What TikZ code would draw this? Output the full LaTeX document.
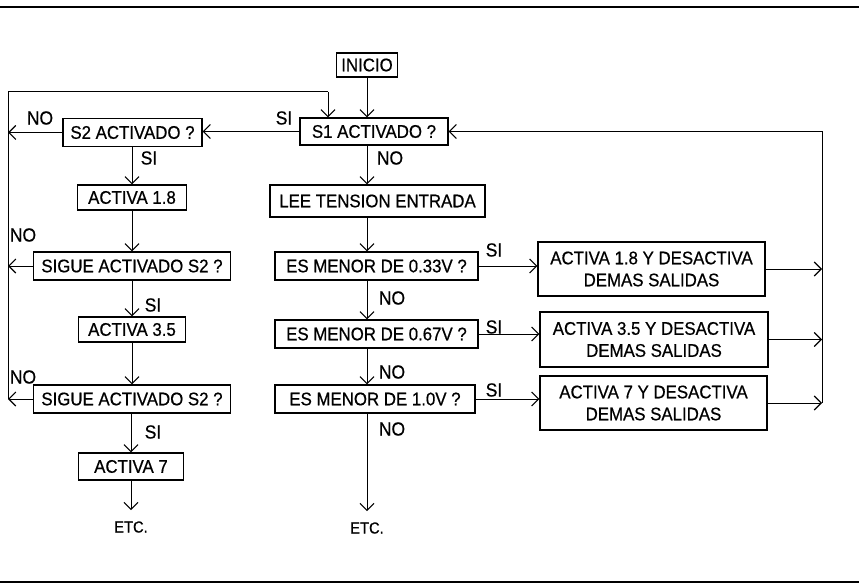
\documentclass[tikz,border=0pt]{standalone}
\usepackage{fontspec}
\setmainfont[FakeStretch=0.92,FakeBold=0.6]{Liberation Sans}
\usetikzlibrary{arrows.meta}
\begin{document}
\begin{tikzpicture}[x=1pt,y=-1pt,
 box/.style={draw,line width=1.2pt,inner sep=0pt,align=center,font=\fontsize{18.3}{22}\selectfont},
 lbl/.style={inner sep=0pt,font=\fontsize{19}{20}\selectfont},
 etclbl/.style={inner sep=0pt,font=\fontsize{16}{17}\selectfont},
 conn/.style={line width=1pt},
 arr/.style={conn,-{Straight Barb[length=7pt,width=14pt,line width=1.1pt]}},
 border/.style={line width=2pt}]
\useasboundingbox (0,0) rectangle (859,583);
\draw[border] (0,7) -- (859,7);
\draw[border] (0,582) -- (859,582);
% nodes
\node[box,minimum width=61pt,minimum height=24pt] (ini) at (367,65) {INICIO};
\node[box,minimum width=148pt,minimum height=27pt] (s1) at (374,131.5) {S1 ACTIVADO ?};
\node[box,minimum width=139pt,minimum height=28pt] (s2) at (132.5,132.5) {S2 ACTIVADO ?};
\node[box,minimum width=109pt,minimum height=25pt] (a18) at (132,197.5) {ACTIVA 1.8};
\node[box,minimum width=215pt,minimum height=32pt] (lee) at (377.5,201) {LEE TENSION ENTRADA};
\node[box,minimum width=197pt,minimum height=28pt] (sg1) at (132,266) {SIGUE ACTIVADO S2 ?};
\node[box,minimum width=107pt,minimum height=25pt] (a35) at (132,329.5) {ACTIVA 3.5};
\node[box,minimum width=197pt,minimum height=28pt] (sg2) at (132,399) {SIGUE ACTIVADO S2 ?};
\node[box,minimum width=105pt,minimum height=27pt] (a7) at (131,466.5) {ACTIVA 7};
\node[box,minimum width=203pt,minimum height=28pt] (es1) at (376.5,266) {ES MENOR DE 0.33V ?};
\node[box,minimum width=203pt,minimum height=28pt] (es2) at (376.5,334) {ES MENOR DE 0.67V ?};
\node[box,minimum width=200pt,minimum height=28pt] (es3) at (375,399) {ES MENOR DE 1.0V ?};
\node[box,minimum width=227pt,minimum height=54pt] (b1) at (651.5,269) {ACTIVA 1.8 Y DESACTIVA\\DEMAS SALIDAS};
\node[box,minimum width=228pt,minimum height=55pt] (b2) at (654,339.5) {ACTIVA 3.5 Y DESACTIVA\\DEMAS SALIDAS};
\node[box,minimum width=227pt,minimum height=54pt] (b3) at (653.5,403) {ACTIVA 7 Y DESACTIVA\\DEMAS SALIDAS};
\node[etclbl] (etc1) at (131,527) {ETC.};
\node[etclbl] (etc2) at (367,528) {ETC.};
% coordinates
\coordinate (L) at (8,92);
\coordinate (T) at (328,92);
\coordinate (R) at (822,0);
% left loop
\draw[conn] (sg2.west -| L) -- (L) -- (T);
\draw[arr] (T) -- (T |- s1.north);
\draw[arr] (s2.west) -- (s2.west -| L);
\draw[arr] (sg1.west) -- (sg1.west -| L);
\draw[arr] (sg2.west) -- (sg2.west -| L);
\draw[arr] (s1.west) -- (s1.west -| s2.east);
% left column
\draw[arr] (s2.south -| a18) -- (a18.north);
\draw[arr] (a18.south) -- (sg1.north);
\draw[arr] (sg1.south) -- (a35.north);
\draw[arr] (a35.south) -- (sg2.north);
\draw[arr] (sg2.south -| a7) -- (a7.north);
\draw[arr] (a7.south) -- ([yshift=11pt]etc1.north);
% center column
\draw[arr] (ini.south) -- (ini |- s1.north);
\draw[arr] (s1.south -| ini) -- (lee.north -| ini);
\draw[arr] (lee.south -| ini) -- (es1.north -| ini);
\draw[arr] (es1.south -| ini) -- (es2.north -| ini);
\draw[arr] (es2.south -| ini) -- (es3.north -| ini);
\draw[arr] (es3.south -| ini) -- ([yshift=11pt]etc2.north);
% right
\draw[arr] (es1.east) -- (es1.east -| b1.west);
\draw[arr] (es2.east) -- (es2.east -| b2.west);
\draw[arr] (es3.east) -- (es3.east -| b3.west);
\draw[arr] (b1.east) -- (b1.east -| R);
\draw[arr] (b2.east) -- (b2.east -| R);
\draw[arr] (b3.east) -- (b3.east -| R);
\draw[conn] (s1.east -| R) -- (b3.east -| R);
\draw[arr] (s1.east -| R) -- (s1.east);
% labels
\node[lbl] (n1) at (40,118) {NO};
\node[lbl] (y1) at (284,118) {SI};
\node[lbl] (y2) at (149,158) {SI};
\node[lbl] (n2) at (390,158) {NO};
\node[lbl] (n3) at (23,235) {NO};
\node[lbl] (y3) at (153,305) {SI};
\node[lbl] (n4) at (23,377) {NO};
\node[lbl] (y4) at (153,432) {SI};
\node[lbl] (n5) at (392,298) {NO};
\node[lbl] (n6) at (392,372) {NO};
\node[lbl] (n7) at (392,429) {NO};
\node[lbl] (y5) at (494,250) {SI};
\node[lbl] (y6) at (494,327) {SI};
\node[lbl] (y7) at (494,390) {SI};
\end{tikzpicture}
\end{document}
